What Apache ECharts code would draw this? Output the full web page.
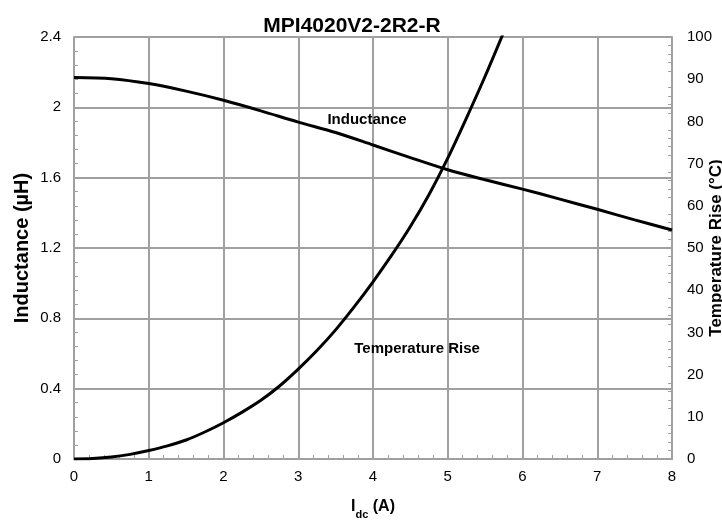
<!DOCTYPE html>
<html>
<head>
<meta charset="utf-8">
<script src="https://cdn.jsdelivr.net/npm/echarts@6/dist/echarts.min.js"></script>
<style>
html,body{margin:0;padding:0;background:#fff;}
#c{width:722px;height:525px;}
</style>
</head>
<body>
<div id="c"></div>
<script>
const chartTitle = 'MPI4020V2-2R2-R';
const xTicks = [0, 1, 2, 3, 4, 5, 6, 7, 8];
const leftTicks = [0, 0.4, 0.8, 1.2, 1.6, 2, 2.4];
const rightTicks = [0, 10, 20, 30, 40, 50, 60, 70, 80, 90, 100];

const idcInductance = [0, 0.5, 1, 1.5, 2, 2.5, 3, 3.5, 4, 4.5, 5, 5.5, 6, 6.5, 7, 7.5, 8];
const inductance = [2.17, 2.163, 2.135, 2.092, 2.04, 1.98, 1.916, 1.857, 1.786, 1.714, 1.645, 1.588, 1.535, 1.478, 1.42, 1.36, 1.302];

const idcTemp = [0, 0.25, 0.5, 0.75, 1, 1.25, 1.5, 1.75, 2, 2.25, 2.5, 2.75, 3, 3.25, 3.5, 3.75, 4, 4.25, 4.5, 4.75, 5, 5.25, 5.5, 5.75];
const tempRise = [0, 0.1, 0.45, 1.1, 2.0, 3.1, 4.5, 6.4, 8.6, 11.1, 13.9, 17.3, 21.3, 25.7, 30.6, 36.1, 42.0, 48.3, 55.1, 62.7, 71.3, 80.8, 90.7, 101.2];

const curveLabels = [
  { text: 'Inductance', x: 3.92, y: 1.928, axis: 0 },
  { text: 'Temperature Rise', x: 4.59, y: 0.626, axis: 0 }
];

const FONT = '"Liberation Sans", Arial, sans-serif';
const gridColor = '#a0a0a0';

const chart = echarts.init(document.getElementById('c'), null, { renderer: 'canvas' });

const option = {
  backgroundColor: '#ffffff',
  animation: false,
  textStyle: { fontFamily: FONT, color: '#000' },
  title: {
    text: chartTitle,
    left: 347,
    textAlign: 'center',
    top: 11,
    textStyle: { fontFamily: FONT, fontSize: 21, fontWeight: 'bold', color: '#000' }
  },
  grid: { left: 74, right: 50, top: 37, bottom: 66, containLabel: false, outerBoundsMode: 'none' },
  xAxis: {
    type: 'value',
    min: 0, max: 8, interval: 1,
    name: '{a|I}{b|dc}{a| (A)}',
    nameLocation: 'middle',
    nameGap: 36,
    nameMoveOverlap: false,
    nameTextStyle: {
      rich: {
        a: { fontFamily: FONT, fontSize: 16, fontWeight: 'bold', color: '#000', verticalAlign: 'bottom', lineHeight: 20 },
        b: { fontFamily: FONT, fontSize: 11, fontWeight: 'bold', color: '#000', verticalAlign: 'bottom', lineHeight: 14, padding: [0, 0, -5, 0] }
      }
    },
    axisLine: { show: true, lineStyle: { color: gridColor, width: 2 } },
    axisTick: { show: false, inside: true },
    minorTick: { show: true, splitNumber: 5, length: 4, lineStyle: { color: gridColor, width: 1 } },
    splitLine: { show: true, lineStyle: { color: gridColor, width: 2 } },
    axisLabel: { fontFamily: FONT, fontSize: 15, color: '#000', margin: 10, formatter: v => xTicks.includes(v) ? String(v) : '' }
  },
  yAxis: [
    {
      type: 'value',
      position: 'left',
      min: 0, max: 2.4, interval: 0.4,
      name: 'Inductance (µH)',
      nameLocation: 'middle',
      nameRotate: 90,
      nameGap: 42,
      nameMoveOverlap: false,
      nameTextStyle: { fontFamily: FONT, fontSize: 20, fontWeight: 'bold', color: '#000' },
      axisLine: { show: true, lineStyle: { color: gridColor, width: 2 } },
      axisTick: { show: false, inside: true },
      minorTick: { show: true, splitNumber: 5, length: 4, lineStyle: { color: gridColor, width: 1 } },
      splitLine: { show: true, lineStyle: { color: gridColor, width: 2 } },
      axisLabel: {
        fontFamily: FONT, fontSize: 15, color: '#000', margin: 13,
        formatter: v => { const t = leftTicks.find(k => Math.abs(k - v) < 1e-6); return t === undefined ? '' : String(t); }
      }
    },
    {
      type: 'value',
      position: 'right',
      min: 0, max: 100, interval: 10,
      name: 'Temperature Rise (°C)',
      nameLocation: 'middle',
      nameRotate: 90,
      nameGap: 36,
      nameMoveOverlap: false,
      nameTextStyle: { fontFamily: FONT, fontSize: 17, fontWeight: 'bold', color: '#000' },
      axisLine: { show: true, lineStyle: { color: gridColor, width: 2 } },
      axisTick: { show: false, inside: true },
      minorTick: { show: true, splitNumber: 5, length: 4, lineStyle: { color: gridColor, width: 1 } },
      splitLine: { show: false },
      axisLabel: { fontFamily: FONT, fontSize: 15, color: '#000', margin: 15, formatter: v => rightTicks.includes(v) ? String(v) : '' }
    }
  ],
  series: [
    {
      name: 'Inductance',
      type: 'line',
      xAxisIndex: 0, yAxisIndex: 0,
      data: idcInductance.map((x, i) => [x, inductance[i]]),
      smooth: 0.3,
      showSymbol: false,
      symbol: 'none',
      lineStyle: { color: '#000', width: 3 },
      z: 5
    },
    {
      name: 'Temperature Rise',
      type: 'line',
      xAxisIndex: 0, yAxisIndex: 1,
      data: idcTemp.map((x, i) => [x, tempRise[i]]),
      smooth: 0.3,
      clip: true,
      showSymbol: false,
      symbol: 'none',
      lineStyle: { color: '#000', width: 3 },
      z: 5
    }
  ]
};

chart.setOption(option);

const graphics = curveLabels.map(l => {
  const p = chart.convertToPixel({ xAxisIndex: 0, yAxisIndex: l.axis }, [l.x, l.y]);
  return {
    type: 'text',
    x: p[0], y: p[1],
    z: 10,
    style: { text: l.text, fontFamily: FONT, fontSize: 15, fontWeight: 'bold', fill: '#000', align: 'center', verticalAlign: 'middle' }
  };
});
chart.setOption({ graphic: graphics });
</script>
</body>
</html>
